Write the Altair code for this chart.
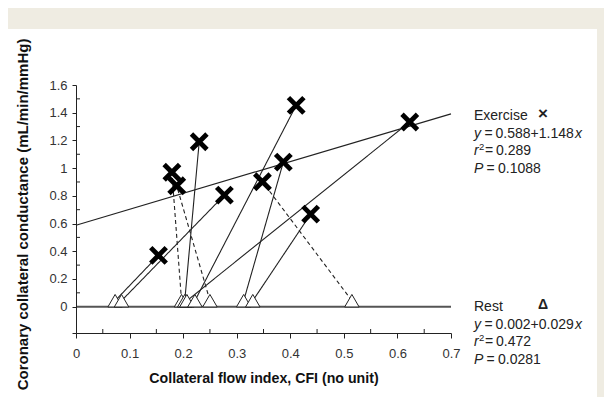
import altair as alt
import pandas as pd

FONT = "Liberation Sans"

# ---- data ----
rest_cfi = [0.073, 0.085, 0.197, 0.203, 0.207, 0.222, 0.250, 0.313, 0.330, 0.515]
rest_cond = [0.043, 0.043, 0.043, 0.043, 0.043, 0.043, 0.043, 0.043, 0.043, 0.043]
ex_cfi = [0.154, 0.277, 0.179, 0.230, 0.623, 0.411, 0.188, 0.387, 0.438, 0.348]
ex_cond = [0.37, 0.805, 0.97, 1.19, 1.333, 1.453, 0.873, 1.043, 0.668, 0.902]
change = ["up", "up", "down", "up", "up", "up", "down", "up", "up", "down"]

reg_x = [0.0, 0.7]
reg_ex_y = [0.588, 1.392]
zero_y = [0.0, 0.0]

x_ticks = [0, 0.1, 0.2, 0.3, 0.4, 0.5, 0.6, 0.7]
x_minor = [0.05, 0.15, 0.25, 0.35, 0.45, 0.55, 0.65]
y_ticks = [-0.19, 0, 0.2, 0.4, 0.6, 0.8, 1.0, 1.2, 1.4, 1.6]
y_minor = [0.1, 0.3, 0.5, 0.7, 0.9, 1.1, 1.3, 1.5]

pairs = pd.DataFrame({"rx": rest_cfi, "ry": rest_cond, "ex": ex_cfi, "ey": ex_cond, "kind": change})
reg = pd.DataFrame({"x": reg_x, "y": reg_ex_y, "z": zero_y})

W, H = 375, 248
xs = alt.Scale(domain=[0, 0.7], nice=False, zero=False)
ys = alt.Scale(domain=[-0.19, 1.6], nice=False, zero=False)

x_axis = alt.Axis(values=x_ticks, format="~g", tickSize=5, labelPadding=9, grid=False, zindex=2,
                  labelOverlap=False, labelBound=False, labelFlush=False,
                  title="Collateral flow index, CFI (no unit)", titlePadding=11,
                  domainColor="#222", tickColor="#222", labelColor="#333",
                  labelFont=FONT, labelFontSize=13, titleFont=FONT, titleFontSize=14.2,
                  titleFontWeight="bold", titleColor="#111")
y_axis = alt.Axis(values=y_ticks, format="~g", labelExpr="datum.value < 0 ? '' : datum.label",
                  tickSize=4, labelPadding=5, grid=False, zindex=2,
                  labelOverlap=False, labelBound=False, labelFlush=False,
                  title="Coronary collateral conductance (mL/min/mmHg)",
                  titleX=-54, titleY=129, titleAlign="center", titleBaseline="middle", titleAngle=270,
                  domainColor="#222", tickColor="#222", labelColor="#333",
                  labelFont=FONT, labelFontSize=13, titleFont=FONT, titleFontSize=15,
                  titleFontWeight="bold", titleColor="#111")

one = alt.Data(values=[{}])

panel = alt.Chart(one).mark_rect(color="white").encode(
    x=alt.value(-68), x2=alt.value(521), y=alt.value(-56), y2=alt.value(312))

base = alt.Chart(reg)
zero_line = base.mark_line(color="#555", strokeWidth=2).encode(
    x=alt.X("x:Q", scale=xs, axis=x_axis), y=alt.Y("z:Q", scale=ys, axis=y_axis))
ex_line = base.mark_line(color="#222", strokeWidth=1.2).encode(
    x=alt.X("x:Q", scale=xs, axis=x_axis), y=alt.Y("y:Q", scale=ys, axis=y_axis))

links = alt.Chart(pairs).mark_rule(color="#222", strokeWidth=1.1).encode(
    x=alt.X("rx:Q", scale=xs, axis=x_axis), y=alt.Y("ry:Q", scale=ys, axis=y_axis), x2="ex:Q", y2="ey:Q",
    strokeDash=alt.StrokeDash("kind:N", scale=alt.Scale(domain=["up", "down"], range=[[1, 0], [4, 3]]), legend=None))

tri = alt.Chart(pairs).mark_point(shape="triangle-up", size=210, filled=True, fill="white",
                                  stroke="#222", strokeWidth=1, opacity=1).encode(
    x=alt.X("rx:Q", scale=xs, axis=x_axis), y=alt.Y("ry:Q", scale=ys, axis=y_axis))

cross = alt.Chart(pairs).mark_point(shape="M-1,-1L1,1M-1,1L1,-1", size=240, filled=False,
                                    stroke="black", strokeWidth=4.8, opacity=1).encode(
    x=alt.X("ex:Q", scale=xs, axis=x_axis), y=alt.Y("ey:Q", scale=ys, axis=y_axis))

xminor = alt.Chart(pd.DataFrame({"v": x_minor})).mark_rule(color="#222").encode(
    x=alt.X("v:Q", scale=xs, axis=x_axis), y=alt.value(H), y2=alt.value(H - 4))
yminor = alt.Chart(pd.DataFrame({"v": y_minor})).mark_rule(color="#222").encode(
    y=alt.Y("v:Q", scale=ys, axis=y_axis), x=alt.value(0), x2=alt.value(4))


def seg(text, x, y, italic=False, size=14, bold=False, dy=0):
    return alt.Chart(one).mark_text(
        text=text, align="left", baseline="middle", font=FONT, fontSize=size,
        fontStyle="italic" if italic else "normal", fontWeight="bold" if bold else "normal",
        color="#222", dy=dy).encode(x=alt.value(x), y=alt.value(y))


X0 = 398
def block(title, sym, y0, eq_num, r2, p, sym_size):
    lh = 17.5
    return [
        seg(title, X0, y0),
        seg(sym, X0 + 64, y0 - 2, bold=True, size=sym_size),
        seg("y", X0, y0 + lh, italic=True),
        seg("=", X0 + 10.5, y0 + lh),
        seg(eq_num, X0 + 21.5, y0 + lh),
        seg("x", X0 + 21.5 + 79.5, y0 + lh, italic=True),
        seg("r", X0, y0 + 2 * lh, italic=True),
        seg("2", X0 + 5, y0 + 2 * lh, size=9.5, dy=-4),
        seg("=", X0 + 11, y0 + 2 * lh),
        seg(r2, X0 + 22, y0 + 2 * lh),
        seg("P", X0, y0 + 3 * lh, italic=True),
        seg("=", X0 + 12.5, y0 + 3 * lh),
        seg(p, X0 + 24, y0 + 3 * lh),
    ]

texts = block("Exercise", "\u00d7", 31, "0.588+1.148", "0.289", "0.1088", 17) + \
        block("Rest", "\u0394", 222, "0.002+0.029", "0.472", "0.0281", 14)

chart = alt.layer(panel, zero_line, ex_line, links, tri, cross, xminor, yminor, *texts).properties(
    width=W, height=H,
    padding={"left": 68, "top": 77, "right": 153, "bottom": 64},
    autosize=alt.AutoSizeParams(type="none"),
    background="#efece2",
).configure_view(stroke=None).configure_axis(labelOverlap=False)

chart.save("out.html", embed_options={"renderer": "svg", "actions": False})
